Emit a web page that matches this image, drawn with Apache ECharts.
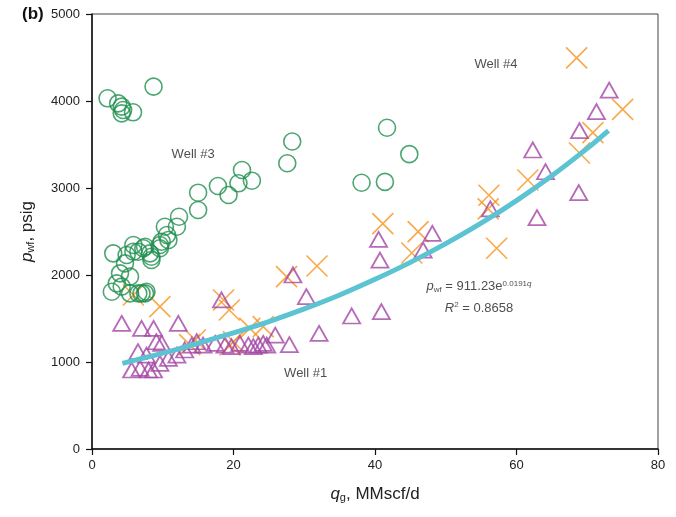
<!DOCTYPE html>
<html>
<head>
<meta charset="utf-8">
<script src="https://cdn.jsdelivr.net/npm/echarts@6/dist/echarts.min.js"></script>
<style>
  html, body { margin: 0; padding: 0; background: #fff; }
  #chart { width: 676px; height: 517px; }
</style>
</head>
<body>
<div id="chart"></div>
<script>
// Well #3 (circles)
const well3 = [
  [2.2, 4031], [3.7, 3973], [4.2, 3935], [4.4, 3897], [4.2, 3858], [5.8, 3870], [8.7, 4165],
  [21.2, 3207], [17.8, 3023], [19.3, 2920], [20.7, 3054], [22.6, 3084], [15.0, 2946], [15.0, 2747],
  [12.3, 2670], [12.0, 2555], [10.3, 2555], [10.6, 2460], [9.85, 2383], [9.6, 2307], [8.4, 2172],
  [8.2, 2249], [7.25, 2307], [6.55, 2268], [5.85, 2345], [5.85, 2268], [4.9, 2230], [3.0, 2249],
  [4.66, 2134], [3.96, 2019], [5.37, 1981], [3.5, 1904], [2.8, 1808], [5.37, 1789], [6.55, 1789],
  [7.5, 1789], [7.7, 1808], [4.2, 1866], [7.0, 1789], [10.8, 2402], [9.6, 2345], [7.5, 2325], [8.4, 2210],
  [28.3, 3535], [27.6, 3285], [38.1, 3060], [41.4, 3070], [41.7, 3692], [44.85, 3389]
];

// Well #1 (triangles)
const well1 = [
  [4.2, 1445], [7.0, 1387], [8.7, 1387], [12.2, 1445],
  [9.1, 1233], [9.85, 1215], [6.5, 1119], [7.7, 1080],
  [5.6, 908], [6.8, 927], [8.0, 908], [8.7, 908], [9.6, 985], [10.8, 1042], [12.0, 1080],
  [13.1, 1138], [14.1, 1195], [14.8, 1233],
  [15.7, 1195], [17.4, 1215], [18.8, 1195], [19.7, 1176], [20.9, 1215], [22.1, 1195],
  [22.8, 1176], [23.5, 1195], [24.2, 1215], [24.7, 1195],
  [25.9, 1310], [27.9, 1200], [32.1, 1330], [18.3, 1713], [28.4, 2000], [30.3, 1751],
  [36.7, 1529], [40.9, 1578], [40.5, 2410], [40.7, 2172], [46.8, 2287], [48.1, 2479],
  [56.3, 2760], [62.3, 3437], [64.1, 3187], [62.9, 2660], [68.8, 2946], [68.9, 3659],
  [71.3, 3877], [73.1, 4126]
];

// Well #4 (crosses)
const well4 = [
  [5.85, 1770], [9.6, 1636], [14.6, 1253], [13.8, 1200], [18.6, 1713], [19.4, 1598],
  [20.0, 1233], [19.5, 1195], [22.3, 1387], [24.2, 1406], [27.5, 1981], [31.8, 2103],
  [41.1, 2590], [46.1, 2498], [45.2, 2253], [57.2, 2307], [56.1, 2916], [56.0, 2760],
  [61.6, 3092], [68.9, 3402], [70.8, 3636], [75.0, 3904], [68.5, 4496]
];

// fitted trend line
const trendX = [4.3, 8, 12, 16, 20, 25, 30, 35, 40, 45, 50, 55, 60, 65, 70, 73];
const trendY = [985, 1060, 1145, 1240, 1335, 1465, 1610, 1770, 1950, 2145, 2360, 2595, 2855, 3140, 3455, 3660];

const FONT = "Liberation Sans, Arial, sans-serif";
const crossPath = "path://M0,0L10,10M10,0L0,10";

let chart = echarts.init(document.getElementById("chart"));

let nameRich = {
  i: { fontSize: 17, fontStyle: "italic", color: "#222", fontFamily: FONT, lineHeight: 22, verticalAlign: "bottom" },
  s: { fontSize: 11, color: "#222", fontFamily: FONT, verticalAlign: "bottom", lineHeight: 16 },
  n: { fontSize: 17, color: "#222", fontFamily: FONT, lineHeight: 22, verticalAlign: "bottom" }
};

let noteRich = {
  i: { fontSize: 13, fontStyle: "italic", color: "#222", fontFamily: FONT, lineHeight: 18, verticalAlign: "bottom" },
  s: { fontSize: 8, color: "#222", fontFamily: FONT, lineHeight: 12, verticalAlign: "bottom" },
  n: { fontSize: 13, color: "#222", fontFamily: FONT, lineHeight: 18, verticalAlign: "bottom" },
  p: { fontSize: 8, color: "#222", fontFamily: FONT, lineHeight: 10, verticalAlign: "top", padding: [4, 0, 0, 0] },
  pi: { fontSize: 8, fontStyle: "italic", color: "#222", fontFamily: FONT, lineHeight: 10, verticalAlign: "top", padding: [4, 0, 0, 0] }
};

let option = {
  animation: false,
  textStyle: { fontFamily: FONT },
  grid: {
    left: 92, right: 18, top: 14, bottom: 68,
    show: true, borderColor: "#444", borderWidth: 1
  },
  graphic: [
    {
      type: "text", left: 22, top: 6,
      style: { text: "(b)", fontSize: 17, fontWeight: "bold", fill: "#111", fontFamily: FONT }
    }
  ],
  xAxis: {
    type: "value", min: 0, max: 80, interval: 20,
    splitLine: { show: false },
    axisLine: { lineStyle: { color: "#111", width: 1.5 } },
    axisTick: { length: 6, lineStyle: { color: "#111", width: 1.2 } },
    axisLabel: { color: "#222", fontSize: 13, margin: 10, fontFamily: FONT },
    name: "{i|q}{s|g}{n|, MMscf/d}",
    nameLocation: "middle", nameGap: 32,
    nameTextStyle: { rich: nameRich }
  },
  yAxis: {
    type: "value", min: 0, max: 5000, interval: 1000,
    splitLine: { show: false },
    axisLine: { show: true, lineStyle: { color: "#111", width: 1.5 } },
    axisTick: { show: true, length: 6, lineStyle: { color: "#111", width: 1.2 } },
    axisLabel: {
      color: "#222", fontSize: 13, margin: 12, fontFamily: FONT,
      formatter: function (v) { return String(v); }
    },
    name: "{i|p}{s|wf}{n|, psig}",
    nameLocation: "middle", nameGap: 56,
    nameTextStyle: { rich: nameRich }
  },
  series: [
    {
      name: "Well #4", type: "scatter", data: well4,
      symbol: crossPath, symbolSize: 21,
      itemStyle: { color: "none", borderColor: "#f7941d", borderWidth: 1.6 }
    },
    {
      name: "Well #1", type: "scatter", data: well1,
      symbol: "triangle", symbolSize: [17, 15],
      itemStyle: { color: "rgba(0,0,0,0)", borderColor: "#a346a5", borderWidth: 1.8 }
    },
    {
      name: "Well #3", type: "scatter", data: well3,
      symbol: "circle", symbolSize: 17,
      itemStyle: { color: "rgba(0,0,0,0)", borderColor: "#1f8f4f", borderWidth: 1.6 }
    },
    {
      name: "trend", type: "line", smooth: 0.3, symbol: "none",
      data: trendX.map((x, i) => [x, trendY[i]]),
      lineStyle: { color: "#5bc3d2", width: 5 },
      z: 5
    },
    {
      name: "notes", type: "scatter", symbol: "circle", symbolSize: 1, silent: true,
      itemStyle: { color: "rgba(0,0,0,0)" },
      z: 6,
      data: [
        { value: [14.3, 3390], label: { formatter: "Well #3" } },
        { value: [30.2, 873], label: { formatter: "Well #1" } },
        { value: [57.1, 4425], label: { formatter: "Well #4" } },
        { value: [54.7, 1893], label: { formatter: "{i|p}{s|wf}{n| = 911.23e}{p|0.0191}{pi|q}" } },
        { value: [54.7, 1647], label: { formatter: "{i|R}{p|2}{n| = 0.8658}" } }
      ],
      label: {
        show: true, position: "inside", color: "#222", fontSize: 13, fontFamily: FONT,
        textBorderWidth: 0,
        rich: noteRich
      }
    }
  ]
};

chart.setOption(option);
window.addEventListener("resize", function () {
  chart.resize();
});
</script>
</body>
</html>
